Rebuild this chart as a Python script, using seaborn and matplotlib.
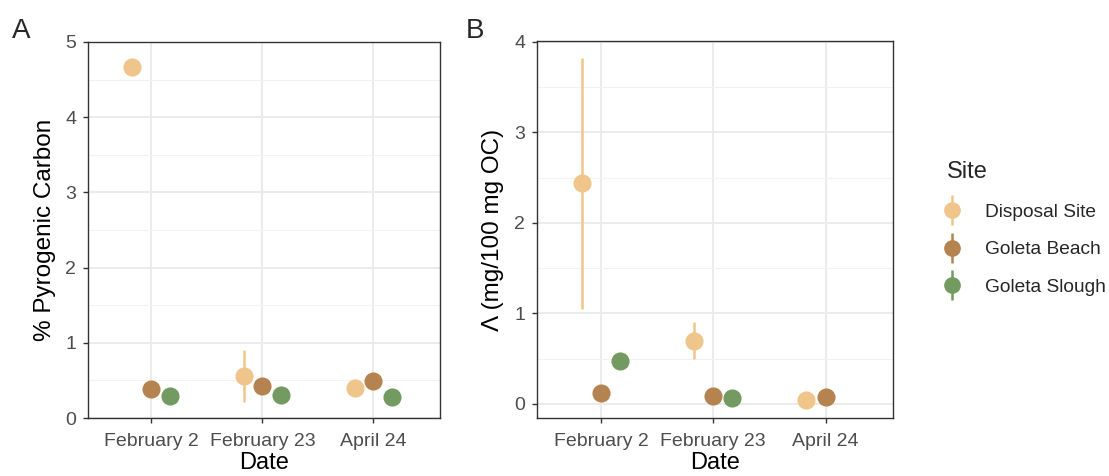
import pandas as pd
import matplotlib
matplotlib.use('Agg')
import matplotlib.pyplot as plt
from matplotlib.lines import Line2D
from matplotlib.legend_handler import HandlerTuple
from matplotlib.ticker import MultipleLocator
import seaborn as sns

# values (mean, low, high)
dates = ['February 2', 'February 23', 'April 24']
sites = ['Disposal Site', 'Goleta Beach', 'Goleta Slough']
site_colors = ['#F0C58C', '#B5834F', '#739A60']

pyc_date = ['February 2'] * 3 + ['February 23'] * 3 + ['April 24'] * 3
pyc_site = sites * 3
pyc_mean = [4.67, 0.39, 0.29, 0.56, 0.42, 0.31, 0.40, 0.49, 0.28]
pyc_low = [4.62, 0.39, 0.29, 0.23, 0.42, 0.31, 0.40, 0.49, 0.28]
pyc_high = [4.72, 0.39, 0.29, 0.89, 0.42, 0.31, 0.40, 0.49, 0.28]

lam_date = ['February 2'] * 3 + ['February 23'] * 3 + ['April 24'] * 2
lam_site = sites * 2 + sites[:2]
lam_mean = [2.44, 0.12, 0.48, 0.70, 0.09, 0.07, 0.045, 0.08]
lam_low = [1.06, 0.12, 0.48, 0.51, 0.09, 0.07, 0.045, 0.08]
lam_high = [3.81, 0.12, 0.48, 0.89, 0.09, 0.07, 0.045, 0.08]


def long_table(date, site, mean, low, high):
    """Three rows per group so median = mean and min/max = error range"""
    rows = []
    for d, s, m, lo, hi in zip(date, site, mean, low, high):
        for v in (lo, m, hi):
            rows.append({'Date': d, 'Site': s, 'value': v})
    return pd.DataFrame(rows)


sns.set_theme(style='white')
plt.rcParams['font.family'] = ['Liberation Sans', 'DejaVu Sans']

fig = plt.figure(figsize=(11.09, 4.76), dpi=100)
ax_a = fig.add_axes([0.0794, 0.1218, 0.3174, 0.790])
ax_b = fig.add_axes([0.4842, 0.1218, 0.3210, 0.792])

palette = dict(zip(sites, site_colors))


def draw_panel(ax, df, ylabel, ymax, ylim):
    sns.pointplot(data=df, x='Date', y='value', hue='Site', order=dates,
                  hue_order=sites, palette=palette, estimator='median',
                  errorbar=('pi', 100), dodge=0.34, linestyle='none',
                  markers='o', markersize=11, err_kws={'linewidth': 1.8},
                  legend=False, ax=ax)
    ax.set_xlim(-0.57, 2.6)
    ax.set_ylim(*ylim)
    ax.yaxis.set_major_locator(MultipleLocator(1))
    ax.yaxis.set_minor_locator(MultipleLocator(0.5))
    ax.grid(True, which='major', color='#EBEBEB', linewidth=1.4)
    ax.grid(True, which='minor', axis='y', color='#F2F2F2', linewidth=0.8)
    ax.set_axisbelow(True)
    for sp in ax.spines.values():
        sp.set_color('#333333')
        sp.set_linewidth(1.0)
    ax.tick_params(which='major', direction='out', length=3.5, width=1,
                   color='#333333', labelcolor='#4D4D4D', labelsize=14,
                   left=True, bottom=True)
    ax.tick_params(axis='x', pad=7)
    ax.tick_params(axis='y', pad=5)
    ax.tick_params(which='minor', length=0)
    ax.set_xlabel('Date', fontsize=17, labelpad=2, color='black')
    ax.set_ylabel(ylabel, fontsize=17.5, labelpad=7, color='black')
    ax.set_yticks(range(0, ymax + 1))


draw_panel(ax_a, long_table(pyc_date, pyc_site, pyc_mean, pyc_low, pyc_high),
           '% Pyrogenic Carbon', 5, (0, 5.0))
draw_panel(ax_b, long_table(lam_date, lam_site, lam_mean, lam_low, lam_high),
           'Λ (mg/100 mg OC)', 4, (-0.155, 4.01))

fig.text(0.011, 1 - 18 / 476, 'A', fontsize=20, va='top')
fig.text(0.420, 1 - 18 / 476, 'B', fontsize=20, va='top')

# legend keys: point with a vertical line through it
handles = []
for c in site_colors:
    bar = Line2D([], [], marker='|', markersize=22, markeredgewidth=1.8,
                 linestyle='none', color=c)
    dot = Line2D([], [], marker='o', markersize=11, linestyle='none', color=c)
    handles.append((bar, dot))
leg = fig.legend(handles, sites, title='Site', loc='center left',
                 bbox_to_anchor=(0.838, 0.52), frameon=False, fontsize=13.8,
                 title_fontsize=17, handler_map={tuple: HandlerTuple(ndivide=1)},
                 labelspacing=1.05, handletextpad=1.4, handlelength=0.6)
leg._legend_box.align = 'left'

fig.savefig('out.png', dpi=100)
